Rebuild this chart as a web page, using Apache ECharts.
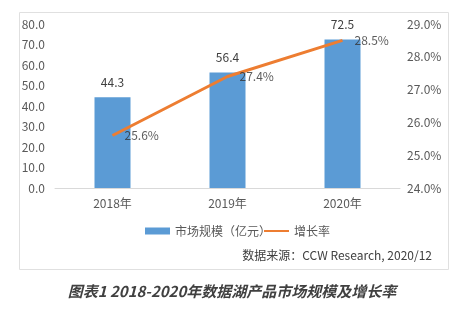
<!DOCTYPE html>
<html><head><meta charset="utf-8">
<script src="https://cdn.jsdelivr.net/npm/echarts@6/dist/echarts.min.js"></script>
<style>html,body{margin:0;padding:0;background:#fff}#c{width:464px;height:329px}</style>
</head><body><div id="c"></div>
<script>
const categories = ['2018年', '2019年', '2020年'];
const marketSize = [44.3, 56.4, 72.5];
const growthRate = [25.6, 27.4, 28.5];
const leftTicks = [0, 80, 10];
const rightTicks = [24, 29, 1];

const F = '"Noto Sans CJK SC", "Noto Sans", sans-serif';
const chart = echarts.init(document.getElementById('c'), null, {renderer: 'canvas'});
chart.setOption({
  animation: false,
  backgroundColor: '#fff',
  textStyle: {fontFamily: F},
  graphic: [
    {type: 'rect', shape: {x: 19.5, y: 12.5, width: 429, height: 257}, style: {fill: 'none', stroke: '#e0e0e0', lineWidth: 1}, z: 0, silent: true},
    {type: 'text', right: 32, top: 249, style: {text: '数据来源：CCW Research, 2020/12', font: '12px ' + F, fill: '#404040'}},
    {type: 'text', left: 'center', top: 284, style: {text: '图表1 2018-2020年数据湖产品市场规模及增长率', font: 'italic bold 15px ' + F, fill: '#404040'}}
  ],
  grid: {left: 55, right: 64, top: 24, bottom: 141, containLabel: false},
  legend: {
    top: 220, left: 140,
    itemGap: -8, itemWidth: 25, itemHeight: 7,
    textStyle: {fontSize: 12, color: '#595959', fontFamily: F},
    data: [
      {name: '市场规模（亿元）', icon: 'rect'},
      {name: '增长率', itemStyle: {color: 'transparent', borderColor: 'transparent', borderWidth: 0}}
    ]
  },
  xAxis: {
    type: 'category', data: categories,
    axisLine: {lineStyle: {color: '#d9d9d9'}},
    axisTick: {show: false},
    axisLabel: {color: '#595959', fontSize: 12, margin: 9}
  },
  yAxis: [
    {type: 'value', min: leftTicks[0], max: leftTicks[1], interval: leftTicks[2],
     splitLine: {show: false}, axisLine: {show: false}, axisTick: {show: false},
     axisLabel: {color: '#595959', fontSize: 12, formatter: v => v.toFixed(1), margin: 10}},
    {type: 'value', min: rightTicks[0], max: rightTicks[1], interval: rightTicks[2],
     splitLine: {show: false}, axisLine: {show: false}, axisTick: {show: false},
     axisLabel: {color: '#595959', fontSize: 12, formatter: v => v.toFixed(1) + '%', margin: 7}}
  ],
  series: [
    {name: '市场规模（亿元）', type: 'bar', data: marketSize, barWidth: 36,
     itemStyle: {color: '#5B9BD5'},
     label: {show: true, position: 'top', distance: 9, color: '#404040', fontSize: 12, formatter: p => p.value.toFixed(1)}},
    {name: '增长率', type: 'line', yAxisIndex: 1, data: growthRate,
     symbol: 'none', lineStyle: {color: '#ED7D31', width: 3}, itemStyle: {color: '#ED7D31'}},
    {name: '增长率标签', type: 'scatter', yAxisIndex: 1, data: growthRate,
     symbolSize: 0, itemStyle: {color: 'transparent'}, z: 5,
     label: {show: true, position: 'right', distance: 12, color: '#333333', fontSize: 12, formatter: p => p.value.toFixed(1) + '%'}}
  ]
});
</script></body></html>
